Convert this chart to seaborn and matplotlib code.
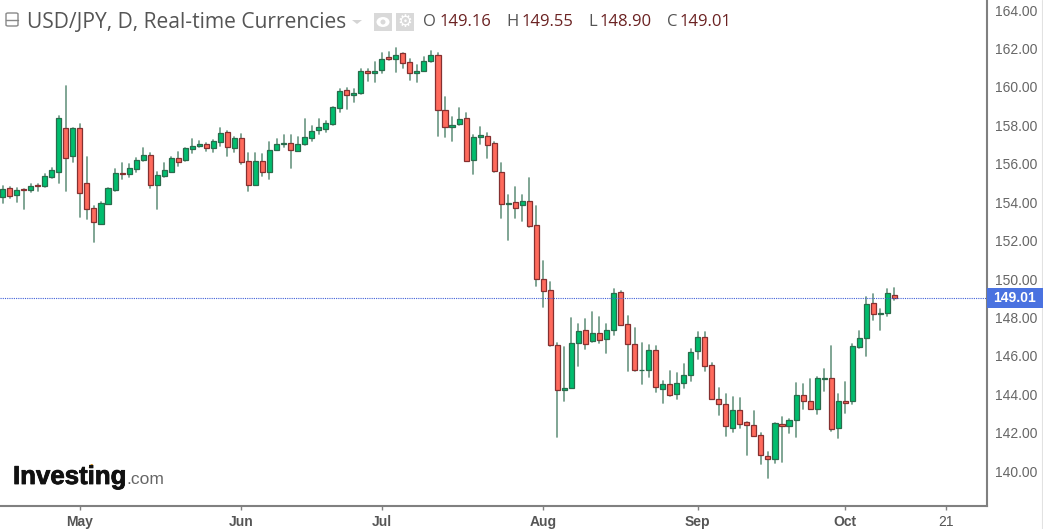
"""
USD/JPY daily candlesticks in the Investing.com chart layout.
"""

import pandas as pd
import matplotlib.pyplot as plt
import matplotlib.patheffects as pe
import seaborn as sns
from matplotlib.patches import Ellipse, FancyBboxPatch, Polygon, Rectangle

# daily candles
opens = [154.29, 154.72, 154.36, 154.67, 154.62, 154.90, 154.83, 155.33, 155.59, 157.85,
         156.39, 157.85, 154.98, 153.68, 152.86, 153.91, 154.65, 155.50, 155.49, 155.73,
         156.18, 156.46, 154.88, 155.38, 155.59, 156.28, 156.18, 156.79, 156.94, 157.05,
         156.84, 157.15, 157.64, 156.84, 157.33, 156.13, 154.88, 156.13, 155.59, 156.70,
         157.05, 157.10, 156.68, 157.03, 157.36, 157.74, 157.81, 158.07, 158.92, 159.84,
         159.57, 159.70, 160.83, 160.75, 160.87, 161.54, 161.47, 161.75, 161.28, 160.71,
         160.81, 161.34, 161.67, 158.80, 157.90, 158.05, 158.37, 156.18, 157.40, 157.45,
         157.06, 155.55, 153.91, 153.99, 153.85, 154.04, 152.81, 150.02, 149.42, 146.58,
         144.20, 144.34, 146.68, 147.34, 146.75, 147.20, 146.87, 147.32, 149.30, 147.67,
         146.63, 145.24, 145.26, 146.30, 144.27, 144.55, 144.01, 144.60, 144.98, 146.23,
         146.96, 145.52, 143.77, 143.51, 142.26, 143.18, 142.54, 142.40, 141.88, 140.77,
         140.64, 142.47, 142.33, 142.64, 143.94, 143.63, 143.23, 144.79, 144.86, 142.26,
         143.63, 143.63, 146.48, 146.95, 148.77, 148.18, 148.25, 149.16]
highs = [154.84, 154.77, 154.72, 154.70, 154.93, 154.93, 155.45, 155.76, 158.51, 160.07,
         157.88, 158.05, 156.35, 153.80, 154.03, 154.76, 155.71, 156.02, 155.99, 156.32,
         156.80, 156.54, 155.55, 156.02, 156.34, 156.60, 156.84, 157.27, 157.20, 157.08,
         157.24, 157.86, 157.72, 157.38, 157.53, 156.54, 156.54, 156.51, 157.12, 157.27,
         157.52, 157.48, 157.41, 158.32, 157.97, 158.32, 158.23, 158.97, 159.88, 159.93,
         159.88, 160.92, 160.92, 161.30, 161.79, 161.82, 162.01, 161.79, 161.44, 161.14,
         161.54, 161.89, 161.79, 159.46, 158.42, 158.89, 158.63, 157.50, 157.90, 157.62,
         157.15, 156.02, 154.37, 154.77, 154.37, 155.24, 153.80, 150.95, 149.84, 146.65,
         146.46, 147.95, 147.64, 147.90, 148.26, 148.00, 147.64, 149.46, 149.39, 148.07,
         147.43, 146.65, 146.56, 146.51, 144.70, 145.22, 145.08, 145.60, 146.33, 147.22,
         147.24, 145.61, 144.31, 144.00, 143.86, 143.79, 142.57, 143.14, 141.96, 140.99,
         142.52, 142.81, 142.69, 144.57, 144.51, 144.78, 144.88, 145.31, 146.53, 144.00,
         144.62, 146.60, 147.31, 149.05, 149.20, 148.42, 149.46, 149.55]
lows = [153.94, 154.20, 154.03, 153.63, 154.55, 154.60, 154.81, 155.24, 154.98, 154.60,
        156.09, 153.25, 153.11, 151.94, 152.86, 153.91, 154.60, 155.19, 155.33, 155.59,
        156.15, 154.72, 153.63, 155.33, 155.59, 155.90, 156.16, 156.58, 156.89, 156.68,
        156.61, 156.94, 156.42, 156.63, 155.97, 154.60, 154.88, 155.36, 155.19, 156.70,
        156.89, 155.76, 156.67, 156.96, 157.20, 157.53, 157.66, 158.02, 158.71, 158.84,
        159.24, 159.62, 160.33, 160.28, 160.75, 161.41, 160.80, 160.97, 160.36, 160.28,
        160.81, 161.32, 157.46, 157.41, 157.20, 158.02, 156.13, 155.47, 157.01, 156.30,
        155.59, 153.18, 152.01, 153.18, 153.04, 152.72, 149.65, 148.56, 146.51, 141.79,
        143.66, 144.30, 145.48, 146.33, 146.73, 146.65, 146.13, 147.11, 147.58, 145.22,
        145.22, 144.51, 144.91, 144.13, 143.52, 143.92, 143.73, 144.30, 144.70, 145.81,
        145.21, 143.73, 142.92, 141.84, 142.05, 142.26, 140.82, 141.81, 140.35, 139.64,
        140.42, 140.49, 141.98, 141.79, 143.21, 143.21, 142.95, 144.19, 142.10, 141.70,
        143.00, 143.47, 146.39, 145.99, 147.88, 147.35, 148.09, 148.90]
closes = [154.67, 154.34, 154.63, 154.62, 154.84, 154.83, 155.36, 155.68, 158.37, 156.32,
          157.85, 154.50, 153.65, 152.99, 153.94, 154.72, 155.50, 155.45, 155.76, 156.20,
          156.46, 154.88, 155.42, 155.68, 156.28, 156.11, 156.80, 156.93, 157.01, 156.84,
          157.19, 157.62, 156.86, 157.33, 156.11, 154.88, 156.13, 155.59, 156.72, 157.05,
          157.10, 156.70, 157.05, 157.38, 157.69, 157.90, 158.11, 158.94, 159.79, 159.57,
          159.70, 160.83, 160.75, 160.81, 161.47, 161.46, 161.67, 161.27, 160.75, 160.83,
          161.34, 161.67, 158.80, 157.90, 158.00, 158.35, 156.16, 157.40, 157.50, 156.96,
          155.61, 153.92, 153.94, 153.71, 154.04, 152.74, 150.00, 149.36, 146.54, 144.22,
          144.34, 146.68, 147.27, 146.61, 147.20, 146.80, 147.34, 149.29, 147.60, 146.61,
          145.24, 145.28, 146.30, 144.39, 144.55, 143.94, 144.60, 145.00, 146.18, 146.96,
          145.49, 143.75, 143.49, 142.33, 143.18, 142.47, 142.38, 141.81, 140.82, 140.63,
          142.48, 142.33, 142.66, 143.94, 143.63, 143.23, 144.83, 144.83, 142.19, 143.63,
          143.56, 146.49, 146.95, 148.72, 148.20, 148.21, 149.29, 149.01]

price_ticks = [140, 142, 144, 146, 148, 150, 152, 154, 156, 158, 160, 162, 164]
date_tick_pos = [11, 34, 54, 77, 99, 120, 134.3]
date_tick_labels = ['May', 'Jun', 'Jul', 'Aug', 'Sep', 'Oct', '21']
last_price = 149.01

W, H = 1043, 529
GREY = '#555555'
DARK_RED = '#6b2222'
TEXT_FONT = 'Open Sans'
AXIS_FONT = 'Liberation Sans'


def fx(px):
    return px / W


def fy(py):
    return 1 - py / H


sns.set_theme(style='white')
fig = plt.figure(figsize=(W / 100, H / 100), dpi=100, facecolor='white')
ax = fig.add_axes([0, fy(506), fx(987), 506 / H])

idx = list(range(len(opens)))
df = pd.DataFrame({'idx': idx, 'open': opens, 'high': highs, 'low': lows, 'close': closes})

# wicks: one line per candle
wicks = df.melt(id_vars='idx', value_vars=['high', 'low'], value_name='price')
sns.lineplot(data=wicks, x='idx', y='price', units='idx', estimator=None,
             color='#6f9a86', linewidth=1.25, ax=ax, zorder=2)

# bodies
up = df[df['close'] >= df['open']]
down = df[df['close'] < df['open']]
ax.bar(up['idx'], up['close'] - up['open'], bottom=up['open'], width=0.72,
       color='#00bd6e', edgecolor='#2a6b4c', linewidth=0.9, zorder=3)
ax.bar(down['idx'], down['open'] - down['close'], bottom=down['close'], width=0.72,
       color='#ff6a5c', edgecolor='#853030', linewidth=0.9, zorder=3)

ax.axhline(last_price, color='#3f5fd8', linewidth=0.8, linestyle=(0, (1, 1)), zorder=4)

ax.set_xlim(-0.385, 140.2)
ax.set_ylim(138.18, 164.53)
ax.set_xlabel('')
ax.set_ylabel('')
ax.yaxis.tick_right()
ax.set_yticks(price_ticks)
ax.set_yticklabels([f'{p:.2f}' for p in price_ticks], family=AXIS_FONT, fontsize=10, color='#666666')
ax.set_xticks(date_tick_pos)
ax.set_xticklabels(date_tick_labels, family=AXIS_FONT, fontsize=10, color='#555555')
for lab in ax.get_xticklabels()[:-1]:
    lab.set_fontweight('bold')
ax.tick_params(axis='x', length=3, width=1, color='#808080', pad=3.5, bottom=True)
ax.tick_params(axis='y', length=3, width=1, color='#808080', pad=3, right=True)

sns.despine(ax=ax, top=True, left=True, right=False, bottom=False)
for side in ['right', 'bottom']:
    ax.spines[side].set_color('#808080')
    ax.spines[side].set_linewidth(1.5)

# faint frame edge at the far right
fig.add_artist(plt.Line2D([fx(1042), fx(1042)], [0, 1], transform=fig.transFigure,
                          color='#e2e2e2', linewidth=0.8))

# current price tag
fig.add_artist(Rectangle((fx(987), fy(308)), fx(56), 20 / H, transform=fig.transFigure,
                         facecolor='#4a72e0', edgecolor='none', zorder=5))
fig.text(fx(1015), fy(298), f'{last_price:.2f}', color='white', fontsize=10, fontweight='bold',
         family=AXIS_FONT, ha='center', va='center', zorder=6)

# header: collapse box, title, dropdown arrow
fig.add_artist(FancyBboxPatch((fx(6), fy(26)), fx(12), 13 / H, transform=fig.transFigure,
                              boxstyle='round,pad=0,rounding_size=0.002', facecolor='white',
                              edgecolor='#888888', linewidth=1))
fig.add_artist(plt.Line2D([fx(6), fx(18)], [fy(19.5), fy(19.5)], transform=fig.transFigure,
                          color='#888888', linewidth=1))
fig.text(fx(27), fy(22), 'USD/JPY, D, Real-time Currencies', color=GREY, fontsize=15.1,
         family=TEXT_FONT, ha='left', va='center')
fig.add_artist(Polygon([(fx(352), fy(20)), (fx(362), fy(20)), (fx(357), fy(24))],
                       transform=fig.transFigure, facecolor='#d4d4d4', edgecolor='none'))

# eye and gear buttons
for left in [374, 396]:
    fig.add_artist(Rectangle((fx(left), fy(31)), fx(17.5), 18 / H, transform=fig.transFigure,
                             facecolor='#d9d9d9', edgecolor='none'))
fig.add_artist(Ellipse((fx(383), fy(22)), fx(13), 10 / H, transform=fig.transFigure,
                       facecolor='white', edgecolor='none'))
fig.add_artist(Ellipse((fx(383), fy(22)), fx(5), 5 / H, transform=fig.transFigure,
                       facecolor='#d9d9d9', edgecolor='none'))
fig.text(fx(404.8), fy(22), '\u2699', color='white', fontsize=12, family='DejaVu Sans',
         ha='center', va='center')

# OHLC readout
readout = [('O', 423, df['open'].iloc[-1], 440), ('H', 506, df['high'].iloc[-1], 522),
           ('L', 588, df['low'].iloc[-1], 600), ('C', 667, df['close'].iloc[-1], 680)]
for name, name_x, value, value_x in readout:
    fig.text(fx(name_x), fy(22), name, color=GREY, fontsize=12, family=TEXT_FONT, ha='left', va='center')
    fig.text(fx(value_x), fy(22), f'{value:.2f}', color=DARK_RED, fontsize=12, family=TEXT_FONT,
             ha='left', va='center')

# logo
logo = fig.text(fx(13), fy(484), 'Investing', color='#111111', fontsize=18.6, fontweight='bold',
                family=AXIS_FONT, ha='left', va='baseline')
logo.set_path_effects([pe.withStroke(linewidth=0.6, foreground='#111111')])
fig.text(fx(126), fy(484), '.com', color='#666666', fontsize=12.5, family=AXIS_FONT, ha='left', va='baseline')
fig.add_artist(Polygon([(fx(88.5), fy(468)), (fx(91), fy(468)), (fx(93), fy(464)), (fx(91), fy(464))],
                       transform=fig.transFigure, facecolor='#f5a623', edgecolor='none'))

fig.savefig('out.png', dpi=100)
plt.close(fig)
